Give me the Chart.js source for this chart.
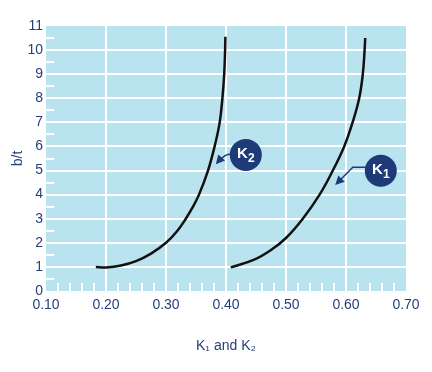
<!DOCTYPE html>
<html>
<head>
<meta charset="utf-8">
<script src="https://cdn.jsdelivr.net/npm/chart.js@4/dist/chart.umd.min.js"></script>
<style>
  html, body { margin: 0; padding: 0; background: #fff; }
  #wrap { width: 432px; height: 372px; }
</style>
</head>
<body>
<div id="wrap"><canvas id="chart"></canvas></div>
<script>
// K2 curve (left one)
const k2X = [0.183, 0.20, 0.225, 0.25, 0.275, 0.30, 0.318, 0.333, 0.345, 0.355, 0.370, 0.381, 0.3895, 0.394, 0.397, 0.3985, 0.399];
const k2Y = [1.0, 0.98, 1.06, 1.24, 1.55, 2.0, 2.47, 3.0, 3.5, 4.0, 5.0, 6.0, 7.0, 8.0, 9.0, 10.0, 10.55];
// K1 curve (right one)
const k1X = [0.408, 0.447, 0.475, 0.50, 0.528, 0.556, 0.578, 0.597, 0.611, 0.622, 0.628, 0.631, 0.632];
const k1Y = [0.98, 1.3, 1.7, 2.2, 3.0, 4.0, 5.0, 6.0, 7.0, 8.0, 9.0, 10.0, 10.5];

const xTicks = [0.10, 0.20, 0.30, 0.40, 0.50, 0.60, 0.70];
const yTicks = [0, 1, 2, 3, 4, 5, 6, 7, 8, 9, 10, 11];
const xMinor = [0.12, 0.14, 0.16, 0.18, 0.22, 0.24, 0.26, 0.28, 0.32, 0.34, 0.36, 0.38,
                0.42, 0.44, 0.46, 0.48, 0.52, 0.54, 0.56, 0.58, 0.62, 0.64, 0.66, 0.68];
const yMinor = [0.5, 1.5, 2.5, 3.5, 4.5, 5.5, 6.5, 7.5, 8.5, 9.5, 10.5];

// callout bubbles: label, subscript, bubble centre and arrow tip (data units)
const calloutText = ['K', 'K'];
const calloutSub = ['2', '1'];
const calloutAt = [[0.433, 5.65], [0.658, 4.99]];
const calloutTip = [[0.383, 5.26], [0.582, 4.40]];

const NAVY = '#263f7a';
const BUBBLE = '#1f3a78';
const FONT = 'Arial, "Liberation Sans", sans-serif';

const toPts = (xs, ys) => xs.map((x, i) => ({ x: x, y: ys[i] }));

// blue plot background
const bgPlugin = {
  id: 'bg',
  beforeDraw(chart) {
    const { ctx, chartArea: a } = chart;
    ctx.save();
    ctx.fillStyle = '#bae3f0';
    ctx.fillRect(a.left, a.top, a.right - a.left, a.bottom - a.top);
    ctx.restore();
  }
};

// short white minor ticks along the left and bottom edges
const minorPlugin = {
  id: 'minor',
  beforeDatasetsDraw(chart) {
    const { ctx, chartArea: a, scales } = chart;
    ctx.save();
    ctx.strokeStyle = '#fff';
    ctx.lineWidth = 2;
    ctx.beginPath();
    xMinor.forEach(v => {
      const px = Math.round(scales.x.getPixelForValue(v));
      ctx.moveTo(px, a.bottom);
      ctx.lineTo(px, a.bottom - 8);
    });
    yMinor.forEach(v => {
      const py = Math.round(scales.y.getPixelForValue(v));
      ctx.moveTo(a.left, py);
      ctx.lineTo(a.left + 8, py);
    });
    ctx.stroke();
    ctx.restore();
  }
};

function arrowHead(ctx, fx, fy, tx, ty) {
  const ang = Math.atan2(ty - fy, tx - fx);
  const len = 9, w = 4.5;
  ctx.beginPath();
  ctx.moveTo(tx, ty);
  ctx.lineTo(tx - len * Math.cos(ang) + w * Math.sin(ang), ty - len * Math.sin(ang) - w * Math.cos(ang));
  ctx.lineTo(tx - len * Math.cos(ang) - w * Math.sin(ang), ty - len * Math.sin(ang) + w * Math.cos(ang));
  ctx.closePath();
  ctx.fill();
}

const calloutPlugin = {
  id: 'callouts',
  afterDatasetsDraw(chart) {
    const { ctx, scales } = chart;
    ctx.save();
    calloutText.forEach((t, i) => {
      const cx = scales.x.getPixelForValue(calloutAt[i][0]);
      const cy = scales.y.getPixelForValue(calloutAt[i][1]);
      const tx = scales.x.getPixelForValue(calloutTip[i][0]);
      const ty = scales.y.getPixelForValue(calloutTip[i][1]);
      const r = 16;
      ctx.strokeStyle = BUBBLE;
      ctx.fillStyle = BUBBLE;
      ctx.lineWidth = 1.5;
      ctx.beginPath();
      let fx, fy;
      if (i === 0) {
        // curved leader
        fx = cx - r - 5; fy = cy - 1;
        ctx.moveTo(cx - r + 1, cy - 1);
        ctx.quadraticCurveTo(fx, fy, tx + 3, ty - 3);
      } else {
        // elbow leader
        fx = cx - r - 12; fy = cy - 3.5;
        ctx.moveTo(cx - r + 1, fy);
        ctx.lineTo(fx, fy);
        ctx.lineTo(tx + 3, ty - 3);
      }
      ctx.stroke();
      arrowHead(ctx, fx, fy, tx, ty);
      ctx.beginPath();
      ctx.arc(cx, cy, r, 0, Math.PI * 2);
      ctx.fill();
      ctx.fillStyle = '#fff';
      ctx.textBaseline = 'middle';
      ctx.textAlign = 'left';
      ctx.font = 'bold 15px ' + FONT;
      const w1 = ctx.measureText(t).width;
      ctx.font = 'bold 12px ' + FONT;
      const w2 = ctx.measureText(calloutSub[i]).width;
      const x0 = cx - (w1 + w2) / 2;
      ctx.font = 'bold 15px ' + FONT;
      ctx.fillText(t, x0, cy - 1);
      ctx.font = 'bold 12px ' + FONT;
      ctx.fillText(calloutSub[i], x0 + w1, cy + 4);
    });
    ctx.restore();
  }
};

const edgeGrid = (min, max) => ctx => {
  const v = ctx.tick && ctx.tick.value;
  return (Math.abs(v - min) < 1e-6 || Math.abs(v - max) < 1e-6) ? 'rgba(0,0,0,0)' : '#fff';
};

new Chart(document.getElementById('chart'), {
  type: 'scatter',
  data: {
    datasets: [
      { label: 'K2', data: toPts(k2X, k2Y) },
      { label: 'K1', data: toPts(k1X, k1Y) }
    ]
  },
  options: {
    responsive: true,
    maintainAspectRatio: false,
    animation: false,
    layout: { padding: { left: 0, right: 26, top: 26, bottom: 0 } },
    elements: {
      point: { radius: 0 },
      line: { borderColor: '#111', borderWidth: 2.5, tension: 0.4 }
    },
    datasets: { scatter: { showLine: true } },
    plugins: { legend: { display: false }, tooltip: { enabled: false } },
    scales: {
      x: {
        type: 'linear',
        min: 0.1, max: 0.7,
        afterBuildTicks: s => { s.ticks = xTicks.map(v => ({ value: v })); },
        afterFit: s => { s.height = 81; },
        border: { display: false },
        grid: { color: edgeGrid(0.1, 0.7), lineWidth: 2, drawTicks: false },
        ticks: {
          color: NAVY, padding: 6, maxRotation: 0, autoSkip: false,
          font: { family: FONT, size: 14 },
          callback: v => v.toFixed(2)
        },
        title: {
          display: true, text: 'K₁ and K₂', color: NAVY,
          font: { family: FONT, size: 14 }, padding: { top: 0, bottom: 17 }
        }
      },
      y: {
        type: 'linear',
        min: 0, max: 11,
        afterBuildTicks: s => { s.ticks = yTicks.map(v => ({ value: v })); },
        afterFit: s => { s.width = 46; },
        border: { display: false },
        grid: { color: edgeGrid(0, 11), lineWidth: 2, drawTicks: false },
        ticks: {
          color: NAVY, padding: 3, autoSkip: false,
          font: { family: FONT, size: 14 }
        },
        title: {
          display: true, text: 'b/t', color: NAVY,
          font: { family: FONT, size: 14 }, padding: { top: 10, bottom: 0 }
        }
      }
    }
  },
  plugins: [bgPlugin, minorPlugin, calloutPlugin]
});
</script>
</body>
</html>
